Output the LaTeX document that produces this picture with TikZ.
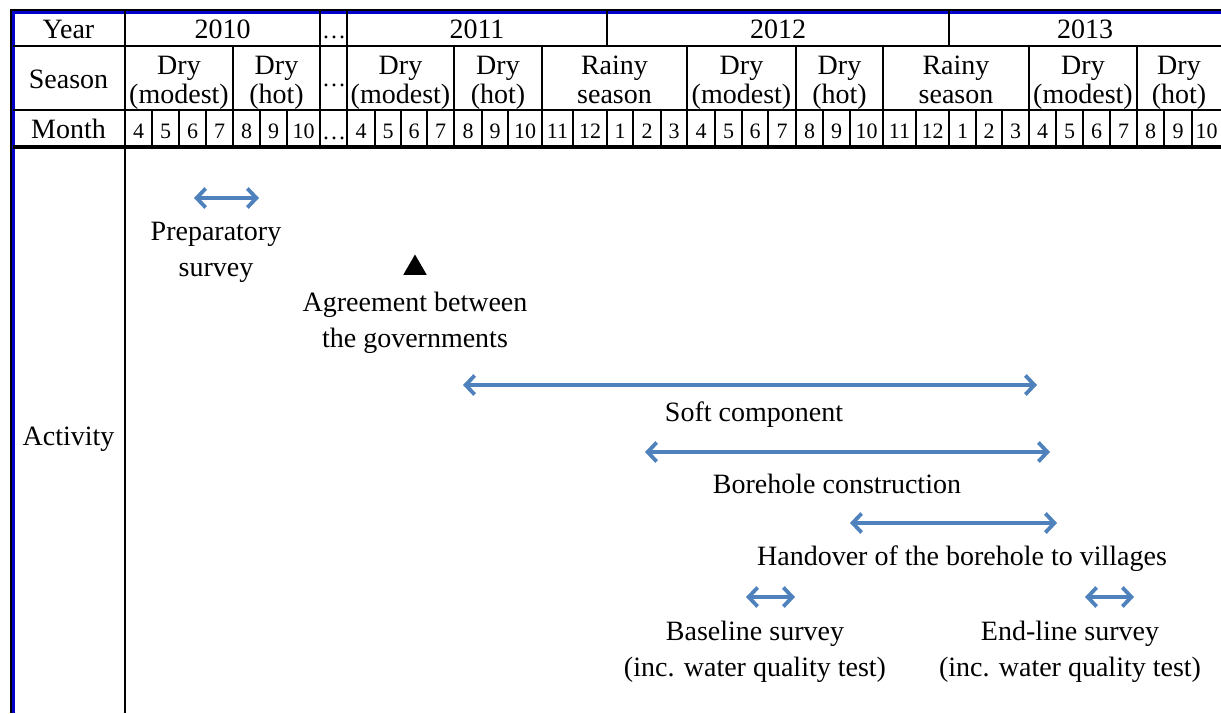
\documentclass[tikz,border=0pt]{standalone}
\usepackage{fontspec}
\setmainfont{Liberation Serif}
\usetikzlibrary{arrows.meta,shapes.geometric}
\definecolor{arrblue}{RGB}{79,129,189}
\definecolor{bordblue}{RGB}{0,0,200}
\tikzset{
  hdr/.style={anchor=base,inner sep=0pt,font=\fontsize{28}{30}\selectfont},
  dotsnode/.style={anchor=base,inner sep=0pt,font=\fontsize{24}{26}\selectfont},
  mon/.style={anchor=base,inner sep=0pt,font=\fontsize{22}{24}\selectfont},
  act/.style={anchor=base,inner sep=0pt,align=center,font=\fontsize{28}{36}\selectfont},
  grid/.style={line width=1.8pt,black},
  tipbig/.tip={Straight Barb[length=9pt,width=19pt,line width=3.8pt]},
  span/.style={line width=3.3pt,arrblue,tipbig-tipbig},
  smallspan/.style={line width=3.3pt,arrblue,tipbig-tipbig}
}
\begin{document}
\begin{tikzpicture}[x=1pt,y=-1pt]
\useasboundingbox (0,0) rectangle (1221,713);
% borders
\draw[line width=2.2pt,black] (1221,10.3) -- (11,10.3) -- (11,713);
\draw[line width=2.2pt,bordblue] (1221,12.4) -- (13.4,12.4) -- (13.4,713);
% horizontal lines
\draw[grid] (13,46) -- (1221,46);
\draw[grid] (13,110) -- (1221,110);
\draw[line width=4pt,black] (13,147) -- (1221,147);
% label column
\draw[grid] (125,11) -- (125,713);
% year row verticals
\foreach \x in {320,347,607,949} \draw[grid] (\x,11) -- (\x,46);
% season row verticals
\foreach \x in {233,320,347,454,542,687,796,883,1029,1137} \draw[grid] (\x,46) -- (\x,110);
% month row verticals
\foreach \x in {152,179,206,233,260,287,320,347,375,401,427,454,482,508,542,573,607,633,661,687,715,742,768,796,823,850,883,916,949,976,1002,1029,1056,1083,1110,1137,1164,1192}
  \draw[grid] (\x,110) -- (\x,146);
% row labels
\node[hdr] (lyear) at (68.5,38) {Year};
\node[hdr] (lseason) at (68.5,88) {Season};
\node[hdr] (lmonth) at (68.5,138) {Month};
\node[act] (lact) at (68.5,445) {Activity};
% years
\node[hdr] (y2010) at (222.5,38) {2010};
\node[dotsnode] (ydots) at (334,38) {…};
\node[hdr] (y2011) at (477,38) {2011};
\node[hdr] (y2012) at (778,38) {2012};
\node[hdr] (y2013) at (1085,38) {2013};
% seasons
\foreach \c/\a/\b/\n in {179/Dry/(modest)/s1, 276.5/Dry/(hot)/s2, 400.5/Dry/(modest)/s3, 498/Dry/(hot)/s4, 614.5/Rainy/season/s5, 741.5/Dry/(modest)/s6, 839.5/Dry/(hot)/s7, 956/Rainy/season/s8, 1083/Dry/(modest)/s9, 1179/Dry/(hot)/s10}{
  \node[hdr] (\n a) at (\c,74) {\a};
  \node[hdr] (\n b) at (\c,103) {\b};
}
\node[dotsnode] (sdots) at (334,86) {…};
% months
\foreach \c/\m [count=\i] in {138.5/4,165.5/5,192.5/6,219.5/7,246.5/8,273.5/9,303.5/10,
  361/4,388/5,414/6,440.5/7,468/8,495/9,525/10,557.5/11,590/12,620/1,647/2,674/3,
  701/4,728.5/5,755/6,782/7,809.5/8,836.5/9,866.5/10,899.5/11,932.5/12,962.5/1,989/2,1015.5/3,
  1042.5/4,1069.5/5,1096.5/6,1123.5/7,1150.5/8,1178/9,1206.5/10}
  \node[mon] (m\i) at (\c,138) {\m};
\node[dotsnode] (mdots) at (334,139) {…};
% activities (two-line nodes: base = baseline of last line)
\coordinate (p1) at (194,198); \coordinate (p2) at (259,198);
\draw[smallspan] (p1) -- (p2);
\node[act] (prep) at (216,276) {Preparatory\\survey};
\node[regular polygon,regular polygon sides=3,fill=black,inner sep=0pt,minimum size=27pt] (tri) at (415,268) {};
\node[act] (agree) at (415,347) {Agreement between\\the governments};
\coordinate (s1) at (463,385); \coordinate (s2) at (1037,385);
\draw[span] (s1) -- (s2);
\node[act] (soft) at (754,421) {Soft component};
\coordinate (b1) at (645,452); \coordinate (b2) at (1050,452);
\draw[span] (b1) -- (b2);
\node[act] (bore) at (837,493) {Borehole construction};
\coordinate (h1) at (850,523); \coordinate (h2) at (1057,523);
\draw[span] (h1) -- (h2);
\node[act] (hand) at (962,565) {Handover of the borehole to villages};
\coordinate (bs1) at (746,597); \coordinate (bs2) at (795,597);
\draw[smallspan] (bs1) -- (bs2);
\node[act] (base) at (755,676) {Baseline survey\\(inc. water quality test)};
\coordinate (e1) at (1085,597); \coordinate (e2) at (1134,597);
\draw[smallspan] (e1) -- (e2);
\node[act] (endl) at (1070,676) {End-line survey\\(inc. water quality test)};
\end{tikzpicture}
\end{document}
